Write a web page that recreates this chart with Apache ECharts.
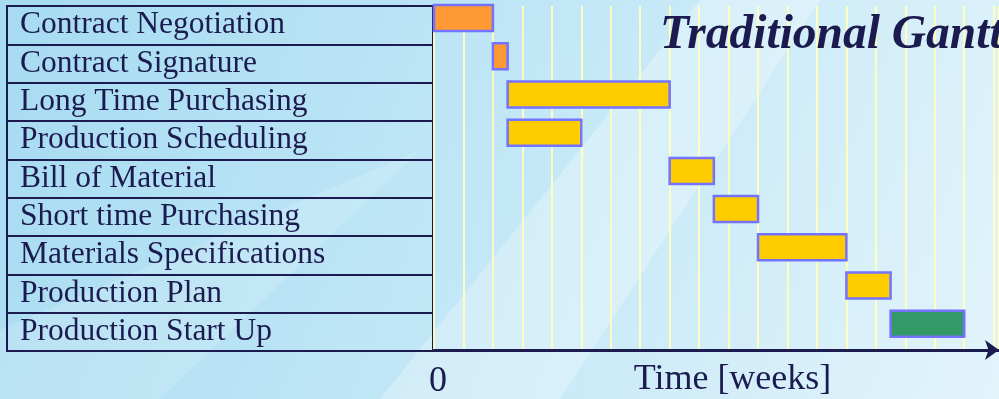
<!DOCTYPE html>
<html>
<head>
<meta charset="utf-8">
<script src="https://cdn.jsdelivr.net/npm/echarts@6/dist/echarts.min.js"></script>
<style>
  html, body { margin: 0; padding: 0; }
  #chart { width: 999px; height: 399px; }
</style>
</head>
<body>
<div id="chart"></div>
<script>
// tasks, top to bottom
var tasks = [
  'Contract Negotiation',
  'Contract Signature',
  'Long Time Purchasing',
  'Production Scheduling',
  'Bill of Material',
  'Short time Purchasing',
  'Materials Specifications',
  'Production Plan',
  'Production Start Up'
]
// start / end in weeks
var starts = [0, 2, 2.5, 2.5, 8, 9.5, 11, 14, 15.5]
var ends = [2, 2.5, 8, 5, 9.5, 11, 14, 15.5, 18]
var phases = ['contract', 'contract', 'supply', 'supply', 'supply', 'supply', 'supply', 'supply', 'production']

var phaseColors = {
  contract: '#ff9933',
  supply: '#ffcc00',
  production: '#339966'
}
var navy = '#1b1b4f'
var serif = 'Liberation Serif, Times New Roman, serif'

var chart = echarts.init(document.getElementById('chart'))

var ganttData = tasks.map(function (name, i) {
  return { name: name, value: [starts[i], ends[i], i], phase: phases[i] }
})

var option = {
  animation: false,
  backgroundColor: {
    type: 'linear', x: 0, y: 0, x2: 1, y2: 1,
    colorStops: [
      { offset: 0, color: '#a6dbf1' },
      { offset: 0.45, color: '#bfe6f6' },
      { offset: 1, color: '#e3f4fb' }
    ]
  },
  graphic: [
    // soft light streaks like the photo behind
    {
      type: 'polygon', silent: true, z: -10,
      shape: { points: [[380, 399], [560, 399], [820, 0], [700, 0]] },
      style: { fill: 'rgba(255,255,255,0.28)' }
    },
    {
      type: 'polygon', silent: true, z: -10,
      shape: { points: [[0, 330], [0, 399], [160, 399], [420, 150]] },
      style: { fill: 'rgba(255,255,255,0.15)' }
    }
  ],
  title: {
    text: 'Traditional Gantt',
    left: 660,
    top: 12,
    padding: 0,
    textStyle: {
      fontFamily: serif,
      fontSize: 47.5,
      fontWeight: 'bold',
      fontStyle: 'italic',
      color: navy
    }
  },
  grid: [
    // the task table on the left
    { left: 7, width: 426, top: 6, height: 345, show: true, borderColor: navy, borderWidth: 2, outerBoundsMode: 'none' },
    // the time chart
    { left: 434, right: 0, top: 6, height: 344, outerBoundsMode: 'none' }
  ],
  xAxis: [
    { gridIndex: 0, type: 'value', show: false },
    {
      gridIndex: 1,
      type: 'value',
      min: 0,
      max: 19.18,
      interval: 1,
      axisLine: {
        show: true,
        symbol: ['none', 'arrow'],
        symbolSize: [15, 14],
        lineStyle: { color: navy, width: 3 }
      },
      axisTick: { show: false },
      axisLabel: {
        showMaxLabel: false,
        margin: 14,
        fontFamily: serif,
        fontSize: 36,
        color: navy,
        padding: [0, 0, 0, 8],
        formatter: function (v) { return v === 0 ? '0' : '' }
      },
      splitLine: {
        show: true,
        lineStyle: { color: 'rgba(255,255,190,0.95)', width: 2 }
      },
      name: 'Time [weeks]',
      nameLocation: 'middle',
      nameGap: 12,
      nameMoveOverlap: false,
      nameTextStyle: {
        fontFamily: serif,
        fontSize: 36,
        color: navy,
        padding: [0, 0, 0, 32]
      }
    }
  ],
  yAxis: [
    {
      gridIndex: 0,
      type: 'category',
      data: tasks,
      inverse: true,
      axisLine: { show: false },
      axisTick: { show: false },
      axisLabel: {
        inside: true,
        interval: 0,
        margin: 13,
        fontFamily: serif,
        fontSize: 31.5,
        color: navy,
        padding: [0, 0, 6, 0]
      },
      splitLine: { show: true, interval: 0, lineStyle: { color: navy, width: 2 } }
    },
    {
      gridIndex: 1,
      type: 'category',
      data: tasks,
      inverse: true,
      show: false
    }
  ],
  series: [
    {
      type: 'custom',
      xAxisIndex: 1,
      yAxisIndex: 1,
      encode: { x: [0, 1], y: 2 },
      data: ganttData,
      renderItem: function (params, api) {
        var idx = api.value(2)
        var start = api.coord([api.value(0), idx])
        var end = api.coord([api.value(1), idx])
        var band = api.size([0, 1])[1]
        var top = start[1] - band / 2 - 1
        var h = band * 0.68
        var item = ganttData[params.dataIndex]
        return {
          type: 'rect',
          shape: { x: start[0], y: top, width: end[0] - start[0], height: h },
          style: {
            fill: phaseColors[item.phase],
            stroke: '#7373ff',
            lineWidth: 2.5
          }
        }
      }
    }
  ]
}

chart.setOption(option)
</script>
</body>
</html>
